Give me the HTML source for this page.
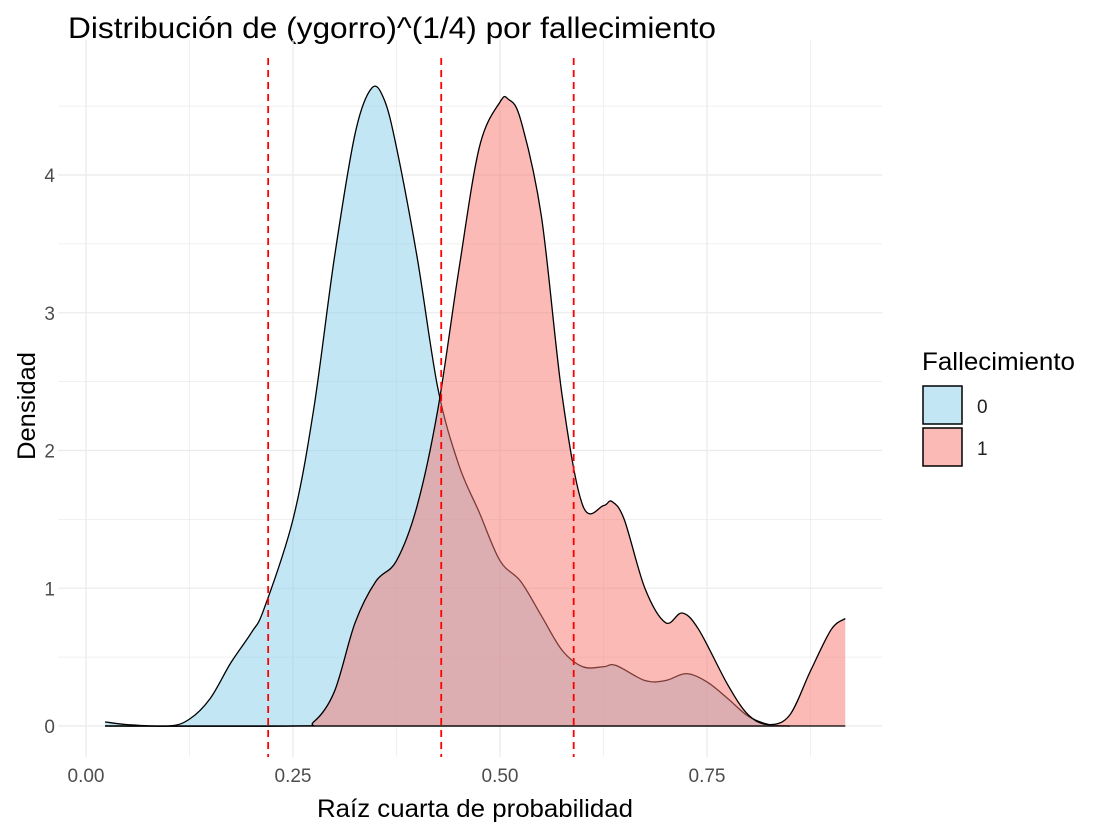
<!DOCTYPE html>
<html><head><meta charset="utf-8"><style>
body{margin:0;background:#fff;font-family:"Liberation Sans",sans-serif}
svg text{font-family:"Liberation Sans",sans-serif}
</style></head><body>
<svg id="chart" width="1101" height="835">
<text x="68" y="38" font-size="30" textLength="648" lengthAdjust="spacingAndGlyphs" fill="#000">Distribución de (ygorro)^(1/4) por fallecimiento</text>
<g id="grid"></g>
<g id="areas"></g>
<g id="vlines"></g>
<g id="ticks"></g>
<text x="475" y="817" font-size="25" textLength="316" lengthAdjust="spacingAndGlyphs" text-anchor="middle">Raíz cuarta de probabilidad</text>
<text transform="translate(35,406) rotate(-90)" font-size="25" textLength="108" lengthAdjust="spacingAndGlyphs" text-anchor="middle">Densidad</text>
<g>
<text x="922" y="370" font-size="25" textLength="153" lengthAdjust="spacingAndGlyphs">Fallecimiento</text>
<rect x="923" y="386" width="39" height="38" fill="#87CEEB" fill-opacity="0.5" stroke="#000" stroke-width="1.5"/>
<text x="977" y="413" font-size="19" fill="#222">0</text>
<rect x="923" y="428" width="39" height="38" fill="#F8766D" fill-opacity="0.5" stroke="#000" stroke-width="1.5"/>
<text x="977" y="455" font-size="19" fill="#222">1</text>
</g>
</svg>
<script>
const xs0=[0.023,0.05,0.10,0.125,0.15,0.175,0.20,0.215,0.25,0.275,0.30,0.325,0.345,0.36,0.375,0.40,0.425,0.45,0.475,0.50,0.525,0.55,0.575,0.60,0.625,0.64,0.675,0.70,0.725,0.75,0.775,0.80,0.825,0.85];
const ys0=[0.03,0.01,0.0,0.05,0.2,0.46,0.68,0.85,1.5,2.3,3.4,4.3,4.63,4.55,4.2,3.4,2.45,1.9,1.55,1.2,1.05,0.8,0.55,0.43,0.43,0.44,0.33,0.33,0.38,0.32,0.2,0.07,0.01,0.0];
const xs1=[0.023,0.25,0.275,0.30,0.325,0.35,0.375,0.40,0.425,0.45,0.475,0.50,0.51,0.525,0.55,0.575,0.60,0.625,0.635,0.65,0.675,0.70,0.72,0.74,0.775,0.80,0.825,0.85,0.875,0.90,0.917];
const ys1=[0,0,0.03,0.25,0.75,1.05,1.2,1.6,2.3,3.3,4.2,4.53,4.55,4.4,3.7,2.4,1.6,1.6,1.63,1.5,1.0,0.75,0.82,0.7,0.3,0.08,0.01,0.08,0.4,0.7,0.78];
const vlineVals=[0.22,0.429,0.589];
const xTicks=[0,0.25,0.5,0.75];
const xTickLabels=["0.00","0.25","0.50","0.75"];
const yTicks=[0,1,2,3,4];
const NS="http://www.w3.org/2000/svg";
const X=v=>86+v*828, Y=v=>726-v*137.75;
function mk(tag,attrs,parent){const e=document.createElementNS(NS,tag);for(const k in attrs)e.setAttribute(k,attrs[k]);document.getElementById(parent).appendChild(e);return e;}
for(let v=0;v<=0.875;v+=0.125){const l=mk('line',{x1:X(v),x2:X(v),y1:40,y2:757,stroke:'#ebebeb','stroke-width':xTicks.includes(v)?1.3:0.7},'grid');

}
for(let v=0;v<=4.5;v+=0.5){const l=mk('line',{x1:58,x2:882,y1:Y(v),y2:Y(v),stroke:'#ebebeb','stroke-width':Number.isInteger(v)?1.3:0.7},'grid');

}
function smooth(xs,ys){let p=[];for(let i=0;i<xs.length;i++)p.push([X(xs[i]),Y(ys[i])]);
let d='M'+p[0][0]+','+p[0][1];
for(let i=0;i<p.length-1;i++){const p0=p[i-1]||p[i],p1=p[i],p2=p[i+1],p3=p[i+2]||p2;
d+=` C${p1[0]+(p2[0]-p0[0])/6},${p1[1]+(p2[1]-p0[1])/6} ${p2[0]-(p3[0]-p1[0])/6},${p2[1]-(p3[1]-p1[1])/6} ${p2[0]},${p2[1]}`;}
return d;}
function area(xs,ys,col,name){const c=smooth(xs,ys);
const a=mk('path',{d:c+` L${X(xs[xs.length-1])},${Y(0)} L${X(xs[0])},${Y(0)} Z`,fill:col,'fill-opacity':0.5,stroke:'none'},'areas');


const l=mk('path',{d:c,fill:'none',stroke:'#000','stroke-width':1.3},'areas');


const b=mk('line',{x1:X(xs[0]),x2:X(xs[xs.length-1]),y1:Y(0),y2:Y(0),stroke:'#000','stroke-width':1.3},'areas');

}
area(xs0,ys0,'#87CEEB','density-0');
area(xs1,ys1,'#F8766D','density-1');
vlineVals.forEach(v=>{const l=mk('line',{x1:X(v),x2:X(v),y1:58,y2:757,stroke:'#ff0000','stroke-width':1.8,'stroke-dasharray':'7,5'},'vlines');

});
xTicks.forEach((v,i)=>{const t=mk('text',{x:X(v),y:782,'font-size':19,fill:'#4d4d4d','text-anchor':'middle'},'ticks');t.textContent=xTickLabels[i];

});
yTicks.forEach(v=>{const t=mk('text',{x:55,y:Y(v)+7,'font-size':19,fill:'#4d4d4d','text-anchor':'end'},'ticks');t.textContent=v;

});
</script>
</body></html>
